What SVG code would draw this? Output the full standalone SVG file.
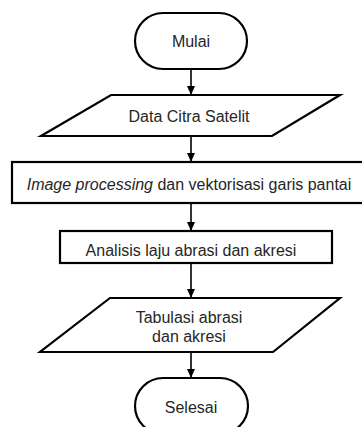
<svg xmlns="http://www.w3.org/2000/svg" width="362" height="427" viewBox="0 0 362 427">
<style>
.s{fill:#fff;stroke:#000;stroke-width:2.2}
.t{font-family:"Liberation Sans",Arial,sans-serif;font-size:16px;fill:#262626;text-anchor:middle}
.c{stroke:#000;stroke-width:1.6;fill:none}
</style>
<defs>
<marker id="a" markerWidth="10" markerHeight="10" refX="9" refY="5" orient="auto" markerUnits="userSpaceOnUse">
<path d="M0,1 L9,5 L0,9 Z" fill="#000"/>
</marker>
</defs>
<rect width="362" height="427" fill="#fff"/>
<g id="connectors">
<line class="c" x1="191" y1="69" x2="191" y2="95" marker-end="url(#a)"/>
<line class="c" x1="191" y1="136" x2="191" y2="162" marker-end="url(#a)"/>
<line class="c" x1="191" y1="203" x2="191" y2="231" marker-end="url(#a)"/>
<line class="c" x1="191" y1="263" x2="191" y2="298" marker-end="url(#a)"/>
<line class="c" x1="191" y1="352" x2="191" y2="378" marker-end="url(#a)"/>
</g>
<g id="mulai">
<rect class="s" x="135" y="13" width="112" height="56" rx="28" ry="28"/>
<text class="t" x="191" y="47">Mulai</text>
</g>
<g id="data">
<polygon class="s" points="111,95 340,95 272,136 41,136"/>
<text class="t" x="189" y="122">Data Citra Satelit</text>
</g>
<g id="processing">
<rect class="s" x="12" y="162" width="352" height="41"/>
<text class="t" x="189" y="190"><tspan font-style="italic">Image processing</tspan> dan vektorisasi garis pantai</text>
</g>
<g id="analisis">
<rect class="s" x="60" y="231" width="272" height="32"/>
<text class="t" x="191" y="256">Analisis laju abrasi dan akresi</text>
</g>
<g id="tabulasi">
<polygon class="s" points="110,298 340,298 273,352 40,352"/>
<text class="t" x="189" y="323">Tabulasi abrasi</text>
<text class="t" x="189" y="342">dan akresi</text>
</g>
<g id="selesai">
<rect class="s" x="135" y="378" width="113" height="56" rx="28" ry="28"/>
<text class="t" x="191" y="413">Selesai</text>
</g>
</svg>
